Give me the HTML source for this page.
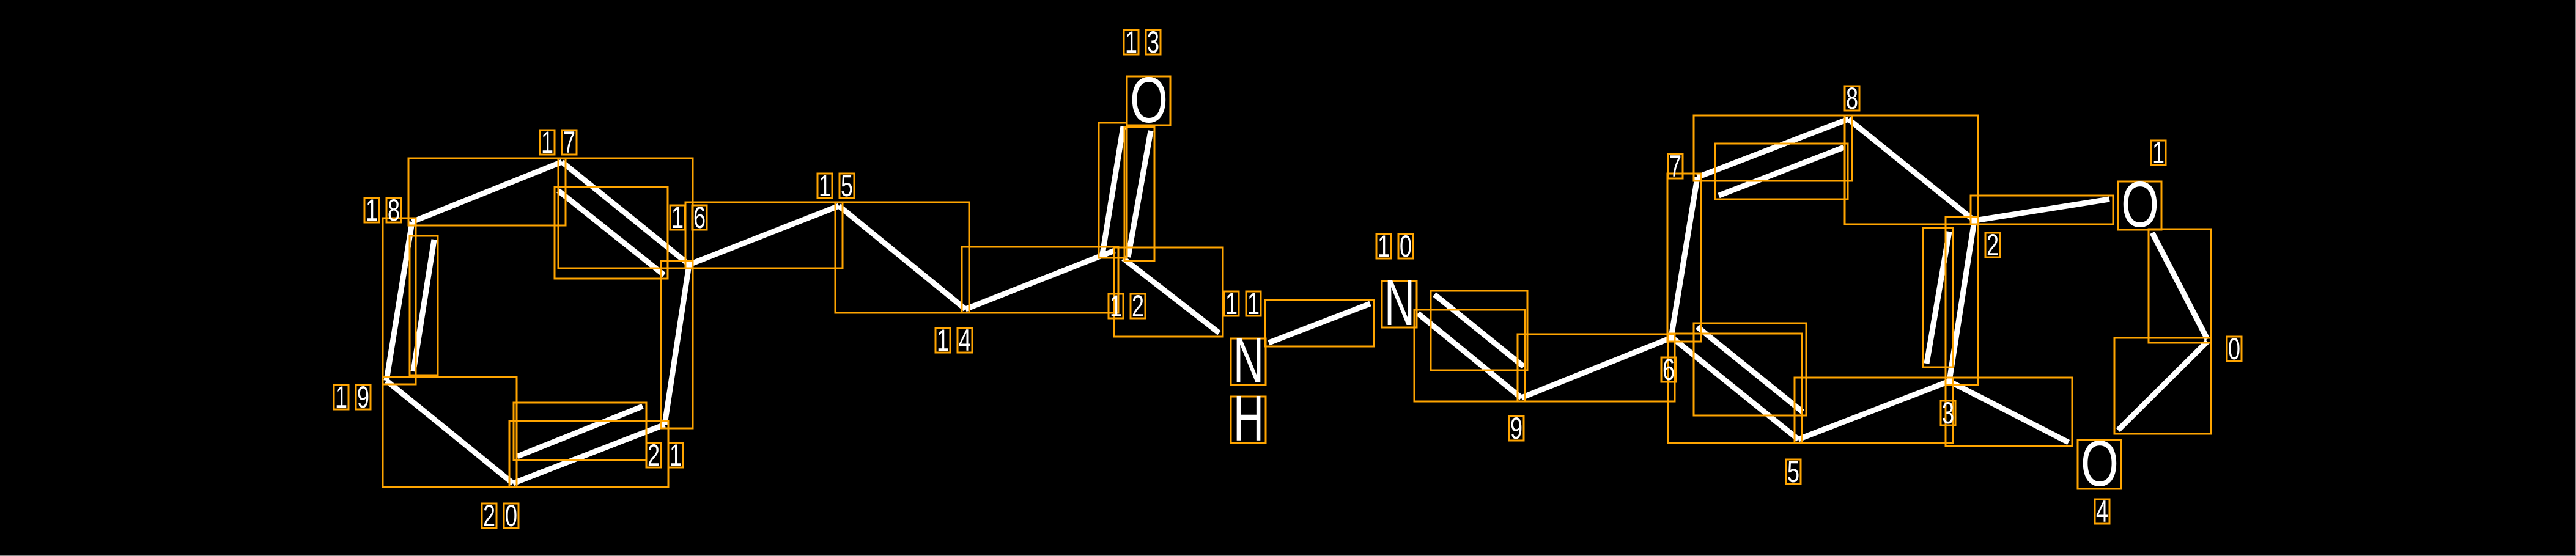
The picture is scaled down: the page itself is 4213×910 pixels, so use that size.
<!DOCTYPE html>
<html><head><meta charset="utf-8"><style>
html,body{margin:0;padding:0;background:#000;}
svg{display:block;}
text{font-family:"Liberation Sans","DejaVu Sans",sans-serif;fill:#fff;}
</style></head><body>
<svg width="4213" height="910" viewBox="0 0 4213 910" xmlns="http://www.w3.org/2000/svg">
<rect x="0" y="0" width="4213" height="910" fill="#000"/>
<line x1="4212" y1="0" x2="4212" y2="910" stroke="#888" stroke-width="2"/>
<line x1="0" y1="909" x2="4213" y2="909" stroke="#888" stroke-width="2"/>
<g stroke="#fff" stroke-width="9" stroke-linecap="butt">
<line x1="674" y1="363" x2="919" y2="265"/>
<line x1="919" y1="265" x2="1127" y2="433"/>
<line x1="913" y1="312" x2="1086" y2="450"/>
<line x1="1127" y1="433" x2="1087" y2="695"/>
<line x1="1087" y1="695" x2="839" y2="791"/>
<line x1="846" y1="747" x2="1051" y2="665"/>
<line x1="839" y1="791" x2="632" y2="623"/>
<line x1="632" y1="623" x2="674" y2="363"/>
<line x1="710" y1="392" x2="676" y2="608"/>
<line x1="1127" y1="433" x2="1372" y2="337"/>
<line x1="1372" y1="337" x2="1579" y2="506"/>
<line x1="1579" y1="506" x2="1823" y2="410"/>
<line x1="1803" y1="416" x2="1837" y2="207"/>
<line x1="1845" y1="421" x2="1882" y2="214"/>
<line x1="1837" y1="423" x2="1994" y2="545"/>
<line x1="2075" y1="561" x2="2241" y2="497"/>
<line x1="2319" y1="513" x2="2488" y2="651"/>
<line x1="2346" y1="482" x2="2492" y2="600"/>
<line x1="2488" y1="651" x2="2733" y2="553"/>
<line x1="2733" y1="553" x2="2776" y2="290"/>
<line x1="2776" y1="290" x2="3023" y2="195"/>
<line x1="2811" y1="320" x2="3016" y2="241"/>
<line x1="3023" y1="195" x2="3229" y2="361"/>
<line x1="3229" y1="361" x2="3450" y2="326"/>
<line x1="3520" y1="381" x2="3610" y2="555"/>
<line x1="3610" y1="559" x2="3464" y2="704"/>
<line x1="3188" y1="624" x2="3383" y2="724"/>
<line x1="3229" y1="361" x2="3188" y2="624"/>
<line x1="3188" y1="379" x2="3151" y2="595"/>
<line x1="3188" y1="624" x2="2941" y2="719"/>
<line x1="2941" y1="719" x2="2734" y2="552"/>
<line x1="2776" y1="535" x2="2948" y2="674"/>
</g>
<g fill="none" stroke="#FFA500" stroke-width="3">
<rect x="668" y="259" width="257" height="110"/>
<rect x="913" y="259" width="220" height="180"/>
<rect x="907" y="306" width="185" height="150"/>
<rect x="1081" y="427" width="52" height="274"/>
<rect x="833" y="689" width="260" height="108"/>
<rect x="840" y="659" width="217" height="94"/>
<rect x="626" y="617" width="219" height="180"/>
<rect x="626" y="357" width="54" height="272"/>
<rect x="670" y="386" width="46" height="228"/>
<rect x="1121" y="331" width="257" height="108"/>
<rect x="1366" y="331" width="219" height="181"/>
<rect x="1573" y="404" width="256" height="108"/>
<rect x="1797" y="201" width="46" height="221"/>
<rect x="1839" y="208" width="49" height="219"/>
<rect x="1822" y="405" width="178" height="146"/>
<rect x="2069" y="491" width="178" height="76"/>
<rect x="2313" y="507" width="181" height="150"/>
<rect x="2340" y="476" width="158" height="130"/>
<rect x="2482" y="547" width="257" height="110"/>
<rect x="2727" y="284" width="55" height="275"/>
<rect x="2770" y="189" width="259" height="107"/>
<rect x="2805" y="235" width="217" height="91"/>
<rect x="3017" y="189" width="218" height="178"/>
<rect x="3223" y="320" width="233" height="47"/>
<rect x="3514" y="375" width="102" height="186"/>
<rect x="3458" y="553" width="158" height="157"/>
<rect x="3182" y="618" width="207" height="112"/>
<rect x="3182" y="355" width="53" height="275"/>
<rect x="3145" y="373" width="49" height="228"/>
<rect x="2935" y="618" width="259" height="107"/>
<rect x="2728" y="546" width="219" height="179"/>
<rect x="2770" y="529" width="184" height="151"/>
<!-- atom letter boxes -->
<rect x="1843" y="125" width="71" height="80"/>
<rect x="2013" y="554" width="57" height="76"/>
<rect x="2013" y="649" width="57" height="76"/>
<rect x="2260" y="460" width="57" height="76"/>
<rect x="3464" y="297" width="71" height="79"/>
<rect x="3398" y="720" width="71" height="80"/>
</g>
<g font-size="106">
<text x="1848" y="200" textLength="62" lengthAdjust="spacingAndGlyphs">O</text>
<text x="2017" y="626" textLength="50" lengthAdjust="spacingAndGlyphs">N</text>
<text x="2017" y="721" textLength="50" lengthAdjust="spacingAndGlyphs">H</text>
<text x="2264" y="532" textLength="50" lengthAdjust="spacingAndGlyphs">N</text>
<text x="3469" y="371" textLength="62" lengthAdjust="spacingAndGlyphs">O</text>
<text x="3403" y="795" textLength="62" lengthAdjust="spacingAndGlyphs">O</text>
</g>
<g id="labels" font-size="50">
<!-- single digits -->
<g>
<rect x="3642" y="551" width="24" height="40" fill="none" stroke="#FFA500" stroke-width="3"/><text x="3644" y="588" textLength="20" lengthAdjust="spacingAndGlyphs">0</text>
<rect x="3518" y="230" width="24" height="40" fill="none" stroke="#FFA500" stroke-width="3"/><text x="3520" y="267" textLength="20" lengthAdjust="spacingAndGlyphs">1</text>
<rect x="3247" y="381" width="24" height="40" fill="none" stroke="#FFA500" stroke-width="3"/><text x="3249" y="418" textLength="20" lengthAdjust="spacingAndGlyphs">2</text>
<rect x="3174" y="656" width="24" height="40" fill="none" stroke="#FFA500" stroke-width="3"/><text x="3176" y="693" textLength="20" lengthAdjust="spacingAndGlyphs">3</text>
<rect x="3426" y="817" width="24" height="40" fill="none" stroke="#FFA500" stroke-width="3"/><text x="3428" y="854" textLength="20" lengthAdjust="spacingAndGlyphs">4</text>
<rect x="2921" y="752" width="24" height="40" fill="none" stroke="#FFA500" stroke-width="3"/><text x="2923" y="789" textLength="20" lengthAdjust="spacingAndGlyphs">5</text>
<rect x="2717" y="585" width="24" height="40" fill="none" stroke="#FFA500" stroke-width="3"/><text x="2719" y="622" textLength="20" lengthAdjust="spacingAndGlyphs">6</text>
<rect x="2728" y="252" width="24" height="40" fill="none" stroke="#FFA500" stroke-width="3"/><text x="2730" y="289" textLength="20" lengthAdjust="spacingAndGlyphs">7</text>
<rect x="3017" y="141" width="24" height="40" fill="none" stroke="#FFA500" stroke-width="3"/><text x="3019" y="178" textLength="20" lengthAdjust="spacingAndGlyphs">8</text>
<rect x="2468" y="681" width="24" height="40" fill="none" stroke="#FFA500" stroke-width="3"/><text x="2470" y="718" textLength="20" lengthAdjust="spacingAndGlyphs">9</text>
</g>
<!-- double digits: left digit at cx-18, right at cx+18 -->
<g fill="none" stroke="#FFA500" stroke-width="3">
<rect x="2251" y="383" width="24" height="40"/><rect x="2287" y="383" width="24" height="40"/>
<rect x="2002" y="477" width="24" height="40"/><rect x="2038" y="477" width="24" height="40"/>
<rect x="1813" y="481" width="24" height="40"/><rect x="1849" y="481" width="24" height="40"/>
<rect x="1838" y="49" width="24" height="40"/><rect x="1874" y="49" width="24" height="40"/>
<rect x="1530" y="537" width="24" height="40"/><rect x="1566" y="537" width="24" height="40"/>
<rect x="1337" y="284" width="24" height="40"/><rect x="1373" y="284" width="24" height="40"/>
<rect x="1096" y="336" width="24" height="40"/><rect x="1132" y="336" width="24" height="40"/>
<rect x="883" y="213" width="24" height="40"/><rect x="919" y="213" width="24" height="40"/>
<rect x="596" y="324" width="24" height="40"/><rect x="632" y="324" width="24" height="40"/>
<rect x="546" y="630" width="24" height="40"/><rect x="582" y="630" width="24" height="40"/>
<rect x="788" y="824" width="24" height="40"/><rect x="824" y="824" width="24" height="40"/>
<rect x="1057" y="725" width="24" height="40"/><rect x="1093" y="725" width="24" height="40"/>
</g>
<text x="2253" y="420" textLength="20" lengthAdjust="spacingAndGlyphs">1</text><text x="2289" y="420" textLength="20" lengthAdjust="spacingAndGlyphs">0</text>
<text x="2004" y="514" textLength="20" lengthAdjust="spacingAndGlyphs">1</text><text x="2040" y="514" textLength="20" lengthAdjust="spacingAndGlyphs">1</text>
<text x="1815" y="518" textLength="20" lengthAdjust="spacingAndGlyphs">1</text><text x="1851" y="518" textLength="20" lengthAdjust="spacingAndGlyphs">2</text>
<text x="1840" y="86" textLength="20" lengthAdjust="spacingAndGlyphs">1</text><text x="1876" y="86" textLength="20" lengthAdjust="spacingAndGlyphs">3</text>
<text x="1532" y="574" textLength="20" lengthAdjust="spacingAndGlyphs">1</text><text x="1568" y="574" textLength="20" lengthAdjust="spacingAndGlyphs">4</text>
<text x="1339" y="321" textLength="20" lengthAdjust="spacingAndGlyphs">1</text><text x="1375" y="321" textLength="20" lengthAdjust="spacingAndGlyphs">5</text>
<text x="1098" y="373" textLength="20" lengthAdjust="spacingAndGlyphs">1</text><text x="1134" y="373" textLength="20" lengthAdjust="spacingAndGlyphs">6</text>
<text x="885" y="250" textLength="20" lengthAdjust="spacingAndGlyphs">1</text><text x="921" y="250" textLength="20" lengthAdjust="spacingAndGlyphs">7</text>
<text x="598" y="361" textLength="20" lengthAdjust="spacingAndGlyphs">1</text><text x="634" y="361" textLength="20" lengthAdjust="spacingAndGlyphs">8</text>
<text x="548" y="667" textLength="20" lengthAdjust="spacingAndGlyphs">1</text><text x="584" y="667" textLength="20" lengthAdjust="spacingAndGlyphs">9</text>
<text x="790" y="861" textLength="20" lengthAdjust="spacingAndGlyphs">2</text><text x="826" y="861" textLength="20" lengthAdjust="spacingAndGlyphs">0</text>
<text x="1059" y="762" textLength="20" lengthAdjust="spacingAndGlyphs">2</text><text x="1095" y="762" textLength="20" lengthAdjust="spacingAndGlyphs">1</text>
</g>
</svg>
</body></html>
